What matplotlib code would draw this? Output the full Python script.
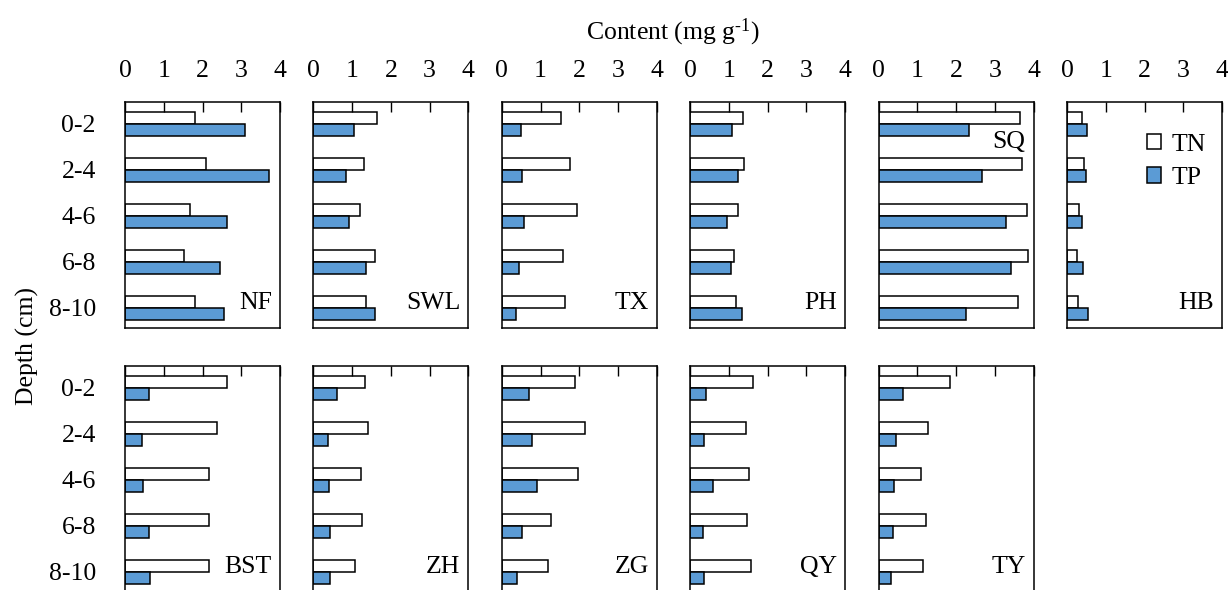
import matplotlib
matplotlib.use("Agg")
import matplotlib.pyplot as plt
import numpy as np

plt.rcParams['font.family'] = ['Liberation Serif', 'DejaVu Serif']
plt.rcParams['mathtext.fontset'] = 'custom'
plt.rcParams['mathtext.rm'] = 'Liberation Serif'
plt.rcParams['mathtext.it'] = 'Liberation Serif:italic'
plt.rcParams['mathtext.bf'] = 'Liberation Serif:bold'

depths = ["0-2", "2-4", "4-6", "6-8", "8-10"]
sites_top = ["NF", "SWL", "TX", "PH", "SQ", "HB"]
sites_bottom = ["BST", "ZH", "ZG", "QY", "TY"]

TN = {
    "NF":  [1.80, 2.08, 1.69, 1.52, 1.80],
    "SWL": [1.64, 1.31, 1.21, 1.58, 1.37],
    "TX":  [1.54, 1.77, 1.95, 1.57, 1.64],
    "PH":  [1.35, 1.39, 1.23, 1.13, 1.17],
    "SQ":  [3.64, 3.70, 3.82, 3.86, 3.60],
    "HB":  [0.38, 0.44, 0.32, 0.26, 0.28],
    "BST": [2.63, 2.37, 2.18, 2.18, 2.18],
    "ZH":  [1.32, 1.40, 1.24, 1.26, 1.07],
    "ZG":  [1.89, 2.15, 1.97, 1.26, 1.19],
    "QY":  [1.63, 1.43, 1.53, 1.46, 1.58],
    "TY":  [1.83, 1.28, 1.09, 1.22, 1.14],
}
TP = {
    "NF":  [3.09, 3.71, 2.62, 2.46, 2.55],
    "SWL": [1.04, 0.84, 0.91, 1.35, 1.60],
    "TX":  [0.49, 0.51, 0.58, 0.44, 0.36],
    "PH":  [1.07, 1.23, 0.94, 1.06, 1.34],
    "SQ":  [2.33, 2.66, 3.30, 3.42, 2.25],
    "HB":  [0.52, 0.49, 0.39, 0.41, 0.55],
    "BST": [0.62, 0.43, 0.46, 0.62, 0.65],
    "ZH":  [0.61, 0.38, 0.40, 0.42, 0.42],
    "ZG":  [0.70, 0.77, 0.92, 0.53, 0.40],
    "QY":  [0.40, 0.36, 0.58, 0.34, 0.36],
    "TY":  [0.63, 0.45, 0.39, 0.37, 0.31],
}
xticks = [0, 1, 2, 3, 4]

W, H = 1228, 590
fig = plt.figure(figsize=(W / 100, H / 100), dpi=100)

FS = 18.5
blue = "#5b9bd5"
bh = 0.26
ypos = np.arange(len(depths))

col_left = [125 + 188.4 * i for i in range(6)]
ax_w = 155
ax_h = 226
row_top = [102, 366]


def make_ax(col, row):
    left = col_left[col] / W
    bottom = 1 - (row_top[row] + ax_h) / H
    return fig.add_axes([left, bottom, ax_w / W, ax_h / H])


def draw(ax, site, first_col, top_row):
    b1 = ax.barh(ypos - bh / 2, TN[site], height=bh, color="white",
                 edgecolor="black", linewidth=1.1, label="TN")
    b2 = ax.barh(ypos + bh / 2, TP[site], height=bh, color=blue,
                 edgecolor="black", linewidth=1.1, label="TP")
    ax.set_xlim(0, 4)
    ax.set_ylim(4.435, -0.478)
    ax.set_xticks(xticks)
    ax.xaxis.tick_top()
    ax.tick_params(axis='x', direction='in', length=7, width=1.0,
                   labelsize=FS, pad=14.5, labeltop=top_row,
                   bottom=False, labelbottom=False)
    ax.set_yticks(ypos)
    ax.set_yticklabels(depths)
    ax.tick_params(axis='y', length=0, labelsize=FS, pad=21,
                   labelleft=first_col)
    for s in ax.spines.values():
        s.set_linewidth(1.1)
    ly = 0.823 if site == "SQ" else 0.111
    ax.text(0.948, ly, site, transform=ax.transAxes, ha='right',
            va='center', fontsize=FS)
    return b1, b2


for i, s in enumerate(sites_top):
    ax = make_ax(i, 0)
    b1, b2 = draw(ax, s, i == 0, True)
    if s == "HB":
        ax.legend(handles=[b1, b2], loc='upper left',
                  bbox_to_anchor=(0.515, 0.86), frameon=False,
                  fontsize=FS, handlelength=0.55, handleheight=0.55,
                  handletextpad=0.4, labelspacing=0.45, borderpad=0,
                  borderaxespad=0)

for i, s in enumerate(sites_bottom):
    ax = make_ax(i, 1)
    draw(ax, s, i == 0, False)

fig.text(673 / W, 1 - 32 / H, r"Content (mg g$^{\text{-1}}$)", ha='center',
         va='center', fontsize=FS)
fig.text(27 / W, 1 - 346 / H, "Depth (cm)", ha='center', va='center',
         rotation=90, fontsize=FS)

fig.savefig("out.png", dpi=100)
